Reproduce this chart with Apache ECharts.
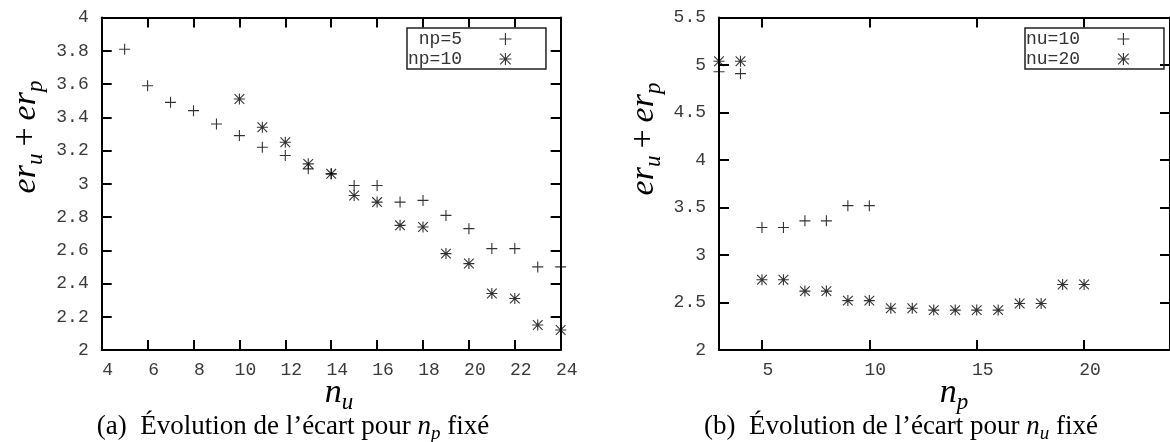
<!DOCTYPE html>
<html><head><meta charset="utf-8">
<script src="https://cdn.jsdelivr.net/npm/echarts@6/dist/echarts.min.js"></script>
<style>html,body{margin:0;padding:0;background:#fff}#c{width:1170px;height:442px}</style>
</head><body><div id="c"></div>
<script>
// ---- data: left chart (x = n_u) ----
const nuA   = [5,6,7,8,9,10,11,12,13,14,15,16,17,18,19,20,21,22,23,24];
const np5   = [3.81,3.59,3.49,3.44,3.36,3.29,3.22,3.17,3.09,3.06,2.99,2.99,2.89,2.90,2.81,2.73,2.61,2.61,2.50,2.50];
const nuB   = [10,11,12,13,14,15,16,17,18,19,20,21,22,23,24];
const np10  = [3.51,3.34,3.25,3.12,3.06,2.93,2.89,2.75,2.74,2.58,2.52,2.34,2.31,2.15,2.12];
// ---- data: right chart (x = n_p) ----
const npC   = [3,4,5,6,7,8,9,10];
const nu10  = [4.93,4.91,3.29,3.29,3.36,3.36,3.52,3.52];
const npD   = [3,4,5,6,7,8,9,10,11,12,13,14,15,16,17,18,19,20];
const nu20  = [5.04,5.04,2.74,2.74,2.62,2.62,2.52,2.52,2.44,2.44,2.42,2.42,2.42,2.42,2.49,2.49,2.69,2.69];
// ---- ticks ----
const xTicksRight = [5,10,15,20];
const legendLeft  = ['np=5','np=10'];
const legendRight = ['nu=10','nu=20'];

const zip = (xs, ys) => xs.map((x, i) => [x, ys[i]]);
const PLUS = 'path://M0,5L10,5M5,0L5,10';
const STAR = 'path://M0,5L10,5M5,0L5,10M0.6,0.6L9.4,9.4M0.6,9.4L9.4,0.6';
const MONO = 'Liberation Mono';
const SERIF = 'Liberation Serif';
const lab = {fontFamily: MONO, fontSize: 18, color: '#3a3a3a'};

function xAxis(gi, min, max, interval, pos, show, custom) {
  const o = {
    type: 'value', gridIndex: gi, position: pos, min, max,
    splitLine: {show: false},
    axisLine: {show: true, onZero: false, lineStyle: {color: '#000', width: 2}},
    axisTick: {show: true, inside: true, length: 10, lineStyle: {color: '#000', width: 2}},
    axisLabel: Object.assign({show: show, margin: 11, padding: [0,0,0,12], showMinLabel: true, showMaxLabel: true}, lab)
  };
  if (interval) o.interval = interval;
  if (custom) { o.axisTick.customValues = custom; o.axisLabel.customValues = custom; }
  return o;
}
function yAxis(gi, min, max, interval, pos, show) {
  return {
    type: 'value', gridIndex: gi, position: pos, min, max, interval,
    splitLine: {show: false},
    axisLine: {show: true, onZero: false, lineStyle: {color: '#000', width: 2}},
    axisTick: {show: true, inside: true, length: 10, lineStyle: {color: '#000', width: 2}},
    axisLabel: Object.assign({show: show, margin: 13, showMinLabel: true, showMaxLabel: true}, lab)
  };
}
function legend(names, left) {
  return {
    data: names, left: left, top: 28, orient: 'vertical', align: 'right',
    itemGap: 0, itemWidth: 12, itemHeight: 12, padding: [1, 34, 0, 1],
    borderColor: '#222', borderWidth: 1.5, selectedMode: false,
    formatter: n => n.padStart(5) + '   ',
    textStyle: {fontFamily: MONO, fontSize: 18, color: '#333', lineHeight: 20},
    itemStyle: {borderWidth: 1.1}
  };
}
function scatter(name, xi, yi, data, sym) {
  return {
    name, type: 'scatter', xAxisIndex: xi, yAxisIndex: yi, data,
    symbol: sym, symbolSize: 11, clip: false,
    itemStyle: {color: '#000', borderColor: '#000', borderWidth: 1.1}
  };
}
const rich = {
  i: {fontFamily: SERIF, fontStyle: 'italic', fontSize: 34, color: '#000'},
  s: {fontFamily: SERIF, fontStyle: 'italic', fontSize: 23, color: '#000', padding: [20,0,0,0]},
  o: {fontFamily: SERIF, fontSize: 34, color: '#000', padding: [0,7,0,7]},
  c: {fontFamily: SERIF, fontSize: 27, color: '#000'},
  ci: {fontFamily: SERIF, fontStyle: 'italic', fontSize: 27, color: '#000'},
  cs: {fontFamily: SERIF, fontStyle: 'italic', fontSize: 19, color: '#000', padding: [13,0,0,0]}
};
function txt(text, x, y, rot) {
  return {type: 'text', x, y, rotation: rot || 0,
    style: {text, rich, align: 'center', verticalAlign: 'middle', fill: '#000'}};
}

const chart = echarts.init(document.getElementById('c'), null, {renderer: 'canvas'});
chart.setOption({
  animation: false,
  backgroundColor: '#fff',
  grid: [
    {left: 101.7, top: 17.6, width: 459, height: 332.4},
    {left: 719, top: 17.6, width: 458.6, height: 332.4}
  ],
  xAxis: [
    xAxis(0, 4, 24, 2, 'bottom', true),
    xAxis(0, 4, 24, 2, 'top', false),
    xAxis(1, 3, 24, null, 'bottom', true, xTicksRight),
    xAxis(1, 3, 24, null, 'top', false, xTicksRight)
  ],
  yAxis: [
    yAxis(0, 2, 4, 0.2, 'left', true),
    yAxis(0, 2, 4, 0.2, 'right', false),
    yAxis(1, 2, 5.5, 0.5, 'left', true),
    yAxis(1, 2, 5.5, 0.5, 'right', false)
  ],
  legend: [legend(legendLeft, 407), legend(legendRight, 1025)],
  series: [
    scatter(legendLeft[0], 0, 0, zip(nuA, np5), PLUS),
    scatter(legendLeft[1], 0, 0, zip(nuB, np10), STAR),
    scatter(legendRight[0], 2, 2, zip(npC, nu10), PLUS),
    scatter(legendRight[1], 2, 2, zip(npD, nu20), STAR)
  ],
  graphic: [
    txt('{i|er}{s|u}{o|+}{i|er}{s|p}', 26, 137, Math.PI/2),
    txt('{i|er}{s|u}{o|+}{i|er}{s|p}', 644, 139, Math.PI/2),
    txt('{i|n}{s|u}', 339, 393),
    txt('{i|n}{s|p}', 954, 393),
    txt('{c|(a)  Évolution de l’écart pour }{ci|n}{cs|p}{c| fixé}', 293, 427),
    txt('{c|(b)  Évolution de l’écart pour }{ci|n}{cs|u}{c| fixé}', 901, 427)
  ]
});
</script></body></html>
